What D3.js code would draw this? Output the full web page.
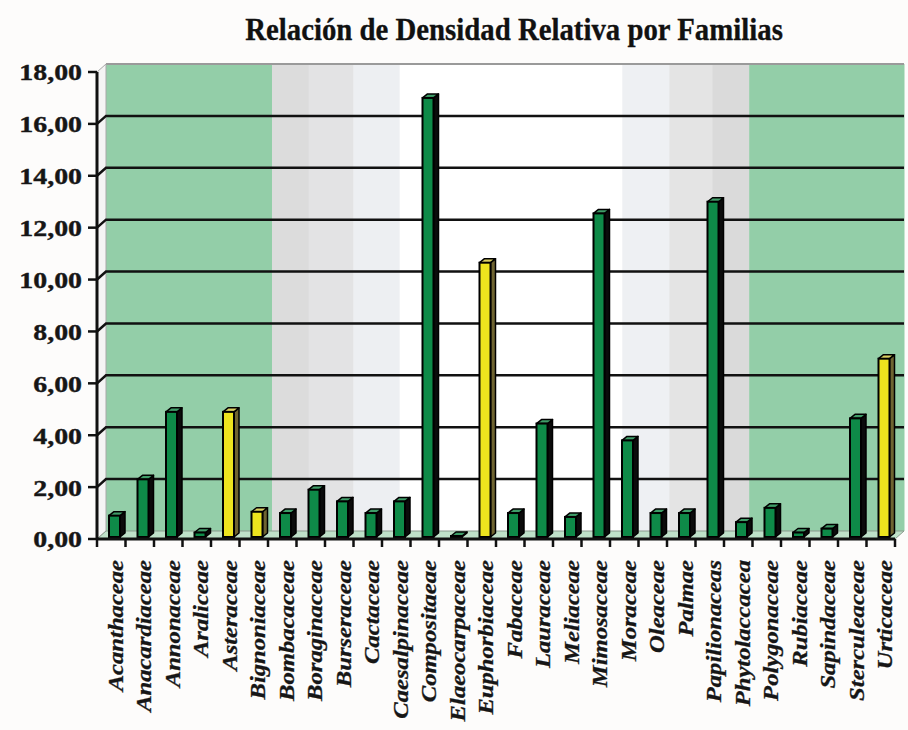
<!DOCTYPE html>
<html>
<head>
<meta charset="utf-8">
<script src="https://cdn.jsdelivr.net/npm/d3@7"></script>
<style>
  body { margin: 0; background: #fdfcfb; }
  svg { display: block; }
</style>
</head>
<body>
<div id="chart"></div>
<script>
// data
var families = ["Acanthaceae", "Anacardiaceae", "Annonaceae", "Araliceae", "Asteraceae",
  "Bignoniaceae", "Bombacaceae", "Boraginaceae", "Burseraceae", "Cactaceae",
  "Caesalpinaceae", "Compositaeae", "Elaeocarpaceae", "Euphorbiaceae", "Fabaceae",
  "Lauraceae", "Meliaceae", "Mimosaceae", "Moraceae", "Oleaceae", "Palmae",
  "Papilionaceas", "Phytolaccacea", "Polygonaceae", "Rubiaceae", "Sapindaceae",
  "Sterculeaceae", "Urticaceae"];
var density = [0.9, 2.3, 4.9, 0.25, 4.9, 1.05, 1.0, 1.9, 1.45, 1.0, 1.45, 17.0, 0.05,
  10.65, 1.0, 4.45, 0.85, 12.55, 3.8, 1.0, 1.0, 13.0, 0.65, 1.2, 0.25, 0.4, 4.65, 6.95];
var highlighted = ["Asteraceae", "Bignoniaceae", "Euphorbiaceae", "Urticaceae"];
var yTicks = [0, 2, 4, 6, 8, 10, 12, 14, 16, 18];
var title = "Relación de Densidad Relativa por Familias";

// backdrop bands of the back wall (fraction of wall width, colour)
var wallBands = [
  [0.000, 0.208, "#93cea8"],
  [0.208, 0.254, "#dcdcdc"],
  [0.254, 0.310, "#e3e3e4"],
  [0.310, 0.368, "#edeff2"],
  [0.368, 0.647, "#ffffff"],
  [0.647, 0.706, "#eef0f3"],
  [0.706, 0.760, "#e4e4e4"],
  [0.760, 0.806, "#dadada"],
  [0.806, 1.000, "#93cea8"]
];

var width = 908, height = 730;
var dx = 9, dy = -8;          // depth of the back wall
var bdx = 5, bdy = -4;        // depth of each bar
var serif = "Liberation Serif, serif";

var svg = d3.select("#chart")
  .append("svg")
    .attr("width", width)
    .attr("height", height);

var x = d3.scaleBand()
  .domain(families)
  .range([97, 895])
  .padding(0);

var y = d3.scaleLinear()
  .domain([0, 18])
  .range([539, 72]);

var x0 = x.range()[0], x1 = x.range()[1];
var wall = d3.scaleLinear().domain([0, 1]).range([x0 + dx, x1 + dx]);

// title
svg.append("text")
  .attr("transform", "translate(514,40) scale(0.96,1.08)")
  .attr("text-anchor", "middle")
  .attr("font-family", serif)
  .attr("font-weight", "bold")
  .attr("font-size", 30)
  .attr("fill", "#111")
  .attr("stroke", "#111")
  .attr("stroke-width", 0.3)
  .text(title);

// back wall
svg.selectAll("rect.band")
  .data(wallBands)
  .enter().append("rect")
    .attr("class", "band")
    .attr("x", function(d) { return wall(d[0]); })
    .attr("y", y(18) + dy)
    .attr("width", function(d) { return wall(d[1]) - wall(d[0]) + 0.5; })
    .attr("height", y(0) - y(18))
    .style("fill", function(d) { return d[2]; });

svg.append("line")
  .attr("x1", x0 + dx).attr("x2", x1 + dx)
  .attr("y1", y(18) + dy).attr("y2", y(18) + dy)
  .attr("stroke", "#9a9a9a")
  .attr("stroke-width", 2);

// left side wall
svg.append("path")
  .attr("d", "M" + x0 + "," + y(18) + "L" + (x0 + dx) + "," + (y(18) + dy) +
    "L" + (x0 + dx) + "," + (y(0) + dy) + "L" + x0 + "," + y(0) + "Z")
  .style("fill", "#f4f4f4")
  .attr("stroke", "#a8a8a8")
  .attr("stroke-width", 1);

// floor
svg.append("path")
  .attr("d", "M" + x0 + "," + y(0) + "L" + x1 + "," + y(0) +
    "L" + (x1 + dx) + "," + (y(0) + dy) + "L" + (x0 + dx) + "," + (y(0) + dy) + "Z")
  .style("fill", "#bfe1c9")
  .attr("stroke", "#8a9a8e")
  .attr("stroke-width", 1);

// grid lines
svg.selectAll("path.grid")
  .data(yTicks.filter(function(d) { return d > 0 && d < 18; }))
  .enter().append("path")
    .attr("class", "grid")
    .attr("d", function(d) {
      return "M" + x0 + "," + y(d) + "L" + (x0 + dx) + "," + (y(d) + dy) +
        "L" + (x1 + dx) + "," + (y(d) + dy);
    })
    .attr("fill", "none")
    .attr("stroke", "#111")
    .attr("stroke-width", 2.5);

// bars
var bars = svg.selectAll("g.bar")
  .data(families)
  .enter().append("g")
    .attr("class", "bar");

function isHi(d) { return highlighted.indexOf(d) >= 0; }
function barX(d) { return x(d) + 12; }
var bw = 11;
var base = y(0) - 2;

bars.append("path")
  .attr("d", function(d, i) {
    var l = barX(d) + bw, t = Math.min(y(density[i]), base - 1);
    return "M" + l + "," + t + "L" + (l + bdx) + "," + (t + bdy) +
      "L" + (l + bdx) + "," + (base + bdy) + "L" + l + "," + base + "Z";
  })
  .style("fill", function(d) { return isHi(d) ? "#6f6431" : "#0b0b0b"; })
  .attr("stroke", "#000")
  .attr("stroke-width", 1.5)
  .attr("stroke-linejoin", "round");

bars.append("path")
  .attr("d", function(d, i) {
    var l = barX(d), t = Math.min(y(density[i]), base - 1);
    return "M" + l + "," + t + "L" + (l + bdx) + "," + (t + bdy) +
      "L" + (l + bw + bdx) + "," + (t + bdy) + "L" + (l + bw) + "," + t + "Z";
  })
  .style("fill", function(d) { return isHi(d) ? "#d9cf62" : "#3f9d68"; })
  .attr("stroke", "#000")
  .attr("stroke-width", 1.5)
  .attr("stroke-linejoin", "round");

bars.append("rect")
  .attr("x", function(d) { return barX(d); })
  .attr("y", function(d, i) { return Math.min(y(density[i]), base - 1); })
  .attr("width", bw)
  .attr("height", function(d, i) { return base - Math.min(y(density[i]), base - 1); })
  .style("fill", function(d) { return isHi(d) ? "#ede41e" : "#0e8a48"; })
  .attr("stroke", "#000")
  .attr("stroke-width", 2);

// y axis
svg.append("line")
  .attr("x1", x0).attr("x2", x0)
  .attr("y1", y(18)).attr("y2", y(0))
  .attr("stroke", "#111")
  .attr("stroke-width", 3);

var yAxis = svg.selectAll("g.ytick")
  .data(yTicks)
  .enter().append("g")
    .attr("class", "ytick")
    .attr("transform", function(d) { return "translate(0," + y(d) + ")"; });

yAxis.append("line")
  .attr("x1", x0 - 9).attr("x2", x0)
  .attr("stroke", "#111")
  .attr("stroke-width", 2.5);

yAxis.append("text")
  .attr("transform", "translate(" + (x0 - 15) + ",0) scale(1.16,1)")
  .attr("dy", "0.35em")
  .attr("text-anchor", "end")
  .attr("font-family", serif)
  .attr("font-weight", "bold")
  .attr("font-size", 24)
  .attr("fill", "#161616")
  .attr("stroke", "#161616")
  .attr("stroke-width", 0.4)
  .text(function(d) { return d3.format(".2f")(d).replace(".", ","); });

// x axis
svg.append("line")
  .attr("x1", x0).attr("x2", x1)
  .attr("y1", y(0)).attr("y2", y(0))
  .attr("stroke", "#111")
  .attr("stroke-width", 3);

svg.selectAll("line.xtick")
  .data(families.concat(["end"]))
  .enter().append("line")
    .attr("class", "xtick")
    .attr("x1", function(d, i) { return x0 + i * x.bandwidth(); })
    .attr("x2", function(d, i) { return x0 + i * x.bandwidth(); })
    .attr("y1", y(0))
    .attr("y2", y(0) + 8)
    .attr("stroke", "#111")
    .attr("stroke-width", 2.5);

svg.selectAll("text.xlabel")
  .data(families)
  .enter().append("text")
    .attr("class", "xlabel")
    .attr("transform", function(d) {
      return "translate(" + (x(d) + 18) + "," + (y(0) + 21) + ") rotate(-90) scale(1.12,1)";
    })
    .attr("dy", "0.35em")
    .attr("text-anchor", "end")
    .attr("font-family", serif)
    .attr("font-weight", "bold")
    .attr("font-style", "italic")
    .attr("font-size", 22)
    .attr("fill", "#161616")
    .attr("stroke", "#161616")
    .attr("stroke-width", 0.3)
    .text(function(d) { return d; });
</script>
</body>
</html>
